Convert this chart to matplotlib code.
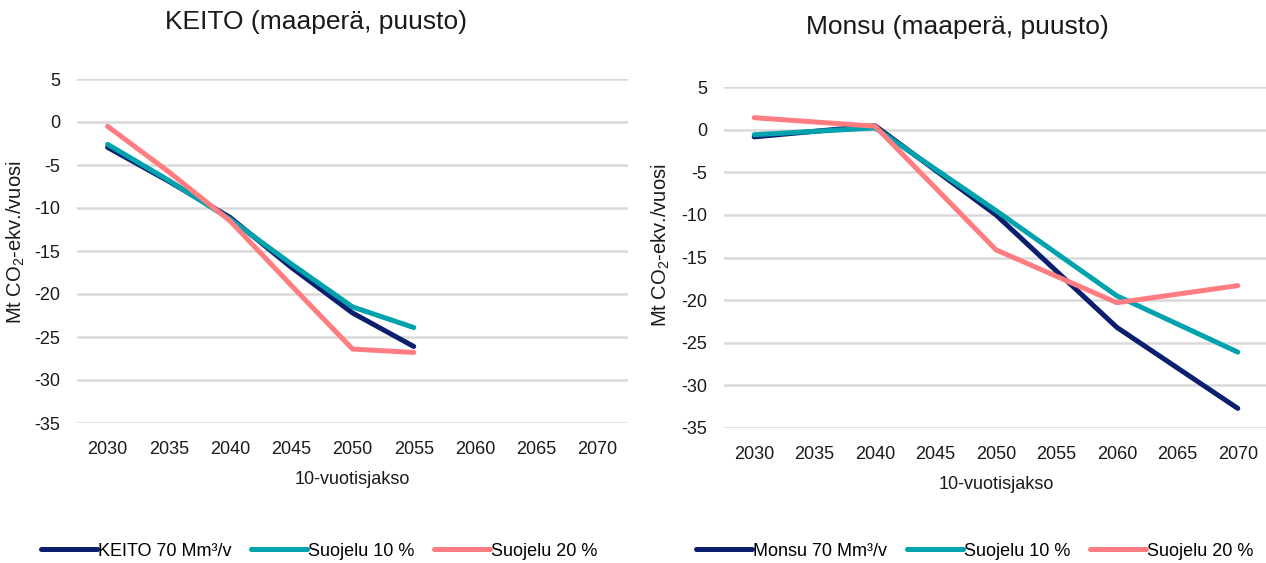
import matplotlib
matplotlib.use("Agg")
import matplotlib.pyplot as plt

plt.rcParams["font.family"] = ["Liberation Sans", "DejaVu Sans"]
plt.rcParams["mathtext.fontset"] = "custom"
plt.rcParams["mathtext.rm"] = "Liberation Sans"
plt.rcParams["mathtext.it"] = "Liberation Sans"
plt.rcParams["axes.unicode_minus"] = False

years = ["2030", "2035", "2040", "2045", "2050", "2055", "2060", "2065", "2070"]

# KEITO: five-year steps up to 2055
keito_x = [0, 1, 2, 3, 4, 5]
keito_base = [-2.95, -6.9, -11.1, -16.9, -22.2, -26.1]
keito_s10 = [-2.6, -6.8, -11.3, -16.5, -21.5, -23.9]
keito_s20 = [-0.5, -5.8, -11.5, -19.0, -26.4, -26.8]

# Monsu: ten-year steps up to 2070
monsu_x = [0, 2, 4, 6, 8]
monsu_base = [-0.85, 0.45, -10.0, -23.2, -32.7]
monsu_s10 = [-0.6, 0.2, -9.5, -19.5, -26.1]
monsu_s20 = [1.4, 0.4, -14.1, -20.3, -18.3]

C_BASE = "#0c1f6e"
C_S10 = "#00a3ad"
C_S20 = "#ff7c80"
GRID = "#d9d9d9"
TXT = "#1a1a1a"
FS = 13

fig = plt.figure(figsize=(12.66, 5.63), dpi=100)
fig.patch.set_facecolor("white")

ax1 = fig.add_axes([77 / 1266, 1 - 423 / 563, 551 / 1266, 344 / 563])
ax2 = fig.add_axes([724 / 1266, 1 - 428 / 563, 544 / 1266, 341 / 563])


def style(ax, ylab_x, ylab_y):
    ax.set_xlim(-0.5, 8.5)
    ax.set_ylim(-35, 5)
    ax.set_yticks(range(-35, 6, 5))
    ax.set_xticks(range(len(years)))
    ax.set_xticklabels(years)
    ax.grid(axis="y", color=GRID, linewidth=1.8)
    ax.set_axisbelow(True)
    for s in ax.spines.values():
        s.set_visible(False)
    ax.tick_params(axis="both", length=0, labelsize=FS, colors=TXT)
    ax.tick_params(axis="x", pad=13)
    ax.tick_params(axis="y", pad=12)
    ax.set_ylabel("Mt CO$_2$-ekv./vuosi", fontsize=14.5, color=TXT)
    ax.yaxis.set_label_coords(ylab_x, ylab_y)
    ax.set_xlabel("10-vuotisjakso", fontsize=FS, color=TXT, labelpad=9)


lw = 3.6
ax1.plot(keito_x, keito_base, color=C_BASE, lw=lw, label="KEITO 70 Mm³/v", solid_capstyle="round")
ax1.plot(keito_x, keito_s10, color=C_S10, lw=lw, label="Suojelu 10 %", solid_capstyle="round")
ax1.plot(keito_x, keito_s20, color=C_S20, lw=lw, label="Suojelu 20 %", solid_capstyle="round")
style(ax1, -0.09, 0.526)

ax2.plot(monsu_x, monsu_base, color=C_BASE, lw=lw, label="Monsu 70 Mm³/v", solid_capstyle="round")
ax2.plot(monsu_x, monsu_s10, color=C_S10, lw=lw, label="Suojelu 10 %", solid_capstyle="round")
ax2.plot(monsu_x, monsu_s20, color=C_S20, lw=lw, label="Suojelu 20 %", solid_capstyle="round")
style(ax2, -0.095, 0.537)

fig.text(316 / 1266, 1 - 22 / 563, "KEITO (maaperä, puusto)", ha="center", va="center",
         fontsize=19, color=TXT)
fig.text(957 / 1266, 1 - 27 / 563, "Monsu (maaperä, puusto)", ha="center", va="center",
         fontsize=19, color=TXT)

for ax, cx in ((ax1, 319), (ax2, 975)):
    ax.legend(loc="center", bbox_to_anchor=(cx / 1266, 1 - 551 / 563),
              bbox_transform=fig.transFigure, ncol=3, frameon=False,
              fontsize=13, handlelength=3.1, handletextpad=0.05,
              columnspacing=1.1, borderaxespad=0)

fig.savefig("out.png", dpi=100)
